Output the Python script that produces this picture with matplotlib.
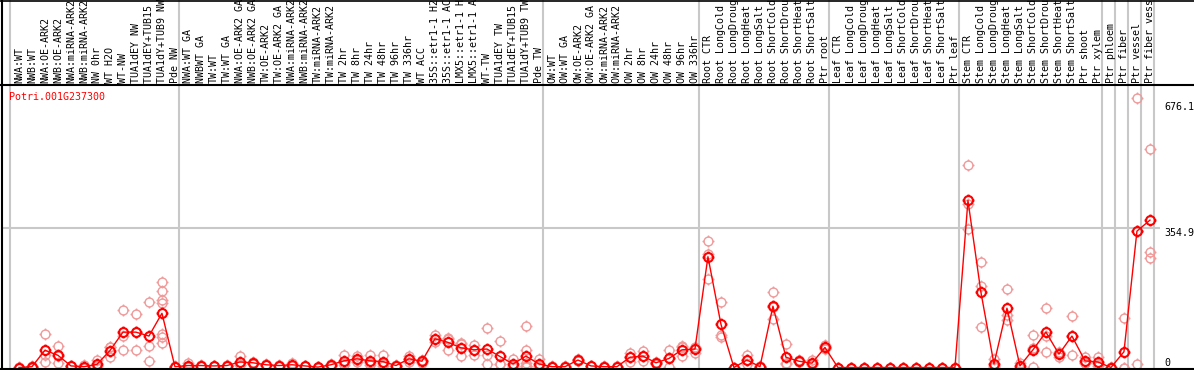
import numpy as np
import matplotlib
matplotlib.use("Agg")
import matplotlib.pyplot as plt
from matplotlib.path import Path
from matplotlib.lines import Line2D

plt.rcParams['font.family'] = ['DejaVu Sans Mono']

gene = "Potri.001G237300"

# sample labels, one per column
labels = [
    "NWA:WT", "NWB:WT", "NWA:OE-ARK2", "NWB:OE-ARK2", "NWA:miRNA-ARK2", "NWB:miRNA-ARK2",
    "NW 0hr", "WT H2O", "WT-NW", "TUA1dEY NW", "TUA1dEY+TUB15 NW", "TUA1dY+TUB9 NW", "Pde NW",
    "NWA:WT GA", "NWBWT GA", "TW:WT", "TW:WT GA", "NWA:OE-ARK2 GA", "NWB:OE-ARK2 GA",
    "TW:OE-ARK2", "TW:OE-ARK2 GA", "NWA:miRNA-ARK2 GA", "NWB:miRNA-ARK2 GA", "TW:miRNA-ARK2",
    "TW:miRNA-ARK2 GA", "TW 2hr", "TW 8hr", "TW 24hr", "TW 48hr", "TW 96hr", "TW 336hr",
    "WT ACC", "35S::etr1-1 H2O", "35S::etr1-1 ACC", "LMX5::etr1-1 H2O", "LMX5::etr1-1 ACC",
    "WT-TW", "TUA1dEY TW", "TUA1dEY+TUB15 TW", "TUA1dY+TUB9 TW", "Pde TW",
    "OW:WT", "OW:WT GA", "OW:OE-ARK2", "OW:OE-ARK2 GA", "OW:miRNA-ARK2", "OW:miRNA-ARK2 GA",
    "OW 2hr", "OW 8hr", "OW 24hr", "OW 48hr", "OW 96hr", "OW 336hr",
    "Root CTR", "Root LongCold", "Root LongDrought", "Root LongHeat", "Root LongSalt",
    "Root ShortCold", "Root ShortDrought", "Root ShortHeat", "Root ShortSalt", "Ptr root",
    "Leaf CTR", "Leaf LongCold", "Leaf LongDrought", "Leaf LongHeat", "Leaf LongSalt",
    "Leaf ShortCold", "Leaf ShortDrought", "Leaf ShortHeat", "Leaf ShortSalt", "Ptr leaf",
    "Stem CTR", "Stem LongCold", "Stem LongDrought", "Stem LongHeat", "Stem LongSalt",
    "Stem ShortCold", "Stem ShortDrought", "Stem ShortHeat", "Stem ShortSalt", "Ptr shoot",
    "Ptr xylem", "Ptr phloem", "Ptr fiber", "Ptr vessel", "Ptr fiber vessel",
]

# column index where each sample group starts (plus the end)
group_edges = [0, 13, 41, 53, 63, 73, 84, 85, 86, 87, 88]

# mean expression per sample
means = [
    0, 2, 44, 31, 4, 2, 8, 43, 90, 90, 80, 138, 2,
    5, 5, 4, 5, 14, 12, 7, 5, 7, 4, 1, 7, 17, 22, 17, 15, 5, 22, 16, 73, 64, 50, 45,
    47, 28, 9, 29, 9,
    2, 2, 19, 4, 2, 2, 26, 29, 12, 23, 45, 47,
    282, 110, 0, 19, 2, 156, 26, 16, 11, 51,
    0, 0, 0, 0, 0, 0, 0, 0, 0, 0,
    425, 191, 9, 151, 4, 45, 90, 34, 80, 17, 14,
    0, 40, 347, 375,
]

# replicate values per sample
reps = [
    [0, 0, 1], [5, 1, 0], [85, 33, 14], [54, 28, 11], [4, 3, 5], [6, 1, 0], [19, 5, 0],
    [51, 51, 27], [147, 80, 44], [135, 44, 91], [166, 54, 16],
    [217, 194, 172, 163, 85, 78, 62], [2, 1, 3],
    [11, 3, 2], [5, 6, 4], [4, 3, 5], [5, 7, 4], [30, 6, 6], [12, 14, 10], [7, 8, 6],
    [5, 7, 4], [11, 7, 3], [4, 5, 3], [1, 0, 2], [7, 9, 5], [32, 12, 7], [30, 20, 15],
    [32, 12, 7], [32, 8, 5], [5, 3, 7], [29, 22, 15], [19, 16, 12], [83, 73, 66],
    [73, 75, 44], [60, 62, 28], [58, 45, 33], [100, 33, 8], [67, 9, 8], [22, 3, 2],
    [105, 44, 12, 5, 3, 2], [22, 3, 2],
    [2, 1, 3], [2, 1, 3], [22, 19, 16], [4, 5, 3], [2, 1, 3], [2, 1, 3], [38, 26, 14],
    [41, 29, 17], [12, 14, 10], [45, 23, 2], [52, 54, 29], [53, 50, 38],
    [323, 290, 224], [167, 83, 77], [0, 0, 0], [31, 18, 9], [2, 3, 1], [191, 154, 124],
    [59, 11, 8], [16, 18, 14], [19, 8, 6], [57, 50, 46],
    [0, 0, 0], [0, 0, 0], [0, 0, 0], [0, 0, 0], [0, 0, 0],
    [0, 0, 0], [0, 0, 0], [0, 0, 0], [0, 0, 0], [0, 0, 0],
    [514, 417, 352], [269, 208, 104], [21, 5, 1], [199, 133, 121], [12, 0, 0],
    [82, 50, 2], [151, 80, 40], [39, 36, 27], [130, 80, 31], [27, 12, 12], [27, 10, 5],
    [0, 0, 1], [126, 0, 0], [685, 347, 9], [555, 293, 278],
]

yticks = [0, 354.9, 676.1]

# circle marker with small ticks on four sides
circ = Path.unit_circle()
tick_verts = [(0, 1), (0, 1.35), (0, -1), (0, -1.35), (1, 0), (1.35, 0), (-1, 0), (-1.35, 0)]
tick_codes = [Path.MOVETO, Path.LINETO] * 4
marker = Path.make_compound_path(circ, Path(tick_verts, tick_codes))

W, H = 1194, 370
fig = plt.figure(figsize=(W / 100, H / 100), dpi=100)
ax = fig.add_axes([2 / W, 1 / H, (1160 - 2) / W, (369 - 85) / H])

xpos = np.arange(len(labels)) + 0.65

# group separators, running up through the label band
for e in group_edges:
    ax.axvline(e, ymin=-0.01, ymax=1.31, color="#c8c8c8", lw=1.5, clip_on=False, zorder=1)
ax.axhline(354.9, color="#c8c8c8", lw=1.5, zorder=1)

# replicates
for x, r in zip(xpos, reps):
    ax.plot([x] * len(r), r, linestyle="none", marker=marker, ms=8.6, mfc="none",
            mec="#f09a9a", mew=1.0, clip_on=False, zorder=3)

# means
ax.plot(xpos, means, color="red", lw=1.0, marker=marker, ms=8.6, mfc="none",
        mec="red", mew=1.5, clip_on=False, zorder=4)

ax.set_xlim((2 - 10.5) / 13, (1160 - 10.5) / 13)
ax.set_ylim((367.5 - 369) / 0.393, (367.5 - 85) / 0.393)

ax.xaxis.tick_top()
ax.set_xticks(xpos)
ax.set_xticklabels(labels, rotation=90, fontsize=7.2)
ax.tick_params(axis="x", length=0, pad=1.4)

ax.yaxis.tick_right()
ax.set_yticks(yticks)
ax.set_yticklabels(["0", "354.9", "676.1"], fontsize=7.2)
ax.tick_params(axis="y", length=0, pad=2.9)
for t in ax.get_yticklabels():
    t.set_va("bottom" if t.get_text() == "0" else "top")

for s in ax.spines.values():
    s.set_visible(False)

ax.text((9.3 - 10.5) / 13, (367.5 - 97) / 0.393, gene, color="red", fontsize=7.2,
        ha="left", va="center")

# frame lines of the whole panel
def fline(x0, y0, x1, y1, lw=1.5):
    fig.add_artist(Line2D([x0 / W, x1 / W], [1 - y0 / H, 1 - y1 / H],
                          transform=fig.transFigure, color="black", lw=lw))

fline(0, 0.5, W, 0.5, lw=1.2)
fline(0, 85, W, 85)
fline(0, 369.3, W, 369.3)
fline(2, 0, 2, H)

fig.savefig("out.png", dpi=100)
